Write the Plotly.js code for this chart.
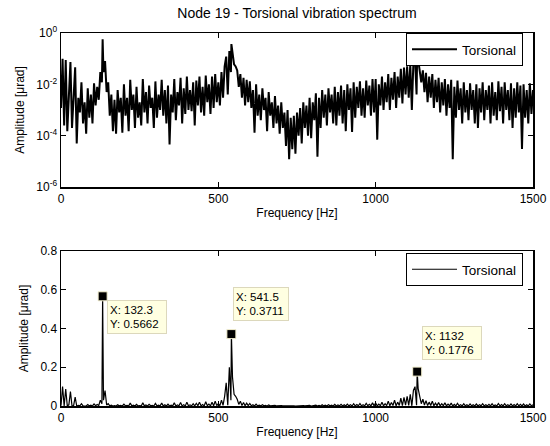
<!DOCTYPE html>
<html><head><meta charset="utf-8">
<script src="https://cdn.plot.ly/plotly-3.0.1.min.js"></script>
<style>html,body{margin:0;padding:0;background:#fff;}#chart{width:550px;height:446px;}</style>
</head><body><div id="chart"></div>
<script>
var chartTitle = "Node 19 - Torsional vibration spectrum";
var seriesName = "Torsional";
var xTitle = "Frequency [Hz]";
var yTitle = "Amplitude [\u03bcrad]";
var xTickVals = [0, 500, 1000, 1500];
var logTickVals = [1e-6, 1e-4, 1e-2, 1];
var logTickText = ["10<sup>-6</sup>", "10<sup>-4</sup>", "10<sup>-2</sup>", "10<sup>0</sup>"];
var linTickVals = [0, 0.2, 0.4, 0.6, 0.8];

var freq = [
0,5,10,15,20,25,30,35,40,45,50,55,60,65,70,75,80,85,90,95,
100,105,110,115,120,125,130,132.3,135,140,145,150,155,160,165,170,175,180,185,190,195,
200,205,210,215,220,225,230,235,240,245,250,255,260,265,270,275,280,285,290,295,
300,305,310,315,320,325,330,335,340,345,350,355,360,365,370,375,380,385,390,395,
400,405,410,415,420,425,430,435,440,445,450,455,460,465,470,475,480,485,490,495,
500,505,510,515,520,525,530,535,540,541.5,545,550,555,560,565,570,575,580,585,590,595,
600,605,610,615,620,625,630,635,640,645,650,655,660,665,670,675,680,685,690,695,
700,705,710,715,720,725,730,735,740,745,750,755,760,765,770,775,780,785,790,795,
800,805,810,815,820,825,830,835,840,845,850,855,860,865,870,875,880,885,890,895,
900,905,910,915,920,925,930,935,940,945,950,955,960,965,970,975,980,985,990,995,
1000,1005,1010,1015,1020,1025,1030,1035,1040,1045,1050,1055,1060,1065,1070,1075,1080,1085,1090,1095,
1100,1105,1110,1115,1120,1125,1130,1132,1135,1140,1145,1150,1155,1160,1165,1170,1175,1180,1185,1190,1195,
1200,1205,1210,1215,1220,1225,1230,1235,1240,1245,1250,1255,1260,1265,1270,1275,1280,1285,1290,1295,
1300,1305,1310,1315,1320,1325,1330,1335,1340,1345,1350,1355,1360,1365,1370,1375,1380,1385,1390,1395,
1400,1405,1410,1415,1420,1425,1430,1435,1440,1445,1450,1455,1460,1465,1470,1475,1480,1485,1490,1495,
1500
];

var amp = [
1.2e-3,0.10,2.5e-4,0.088,1.5e-4,6e-3,0.074,2e-4,2e-3,0.046,5e-5,3e-3,8e-4,0.012,3e-4,2e-3,1.2e-4,7e-3,5e-4,4e-3,
3e-4,0.011,1.5e-3,0.008,2.5e-3,0.03,0.012,0.5662,0.03,0.08,5e-3,0.012,6e-4,4e-3,1.5e-4,2.5e-3,1.2e-4,6e-3,8e-4,3e-3,1.3e-4,
0.01,6e-4,3e-3,1.5e-4,0.015,1e-3,4e-3,2e-4,0.008,5e-4,2e-3,2.5e-4,0.016,8e-4,5e-3,3e-4,0.009,1.2e-3,3e-3,2e-4,
0.013,5e-4,4e-3,1e-3,0.015,6e-4,6e-3,3e-4,0.009,4.5e-5,0.004,8e-4,0.016,4e-4,5e-3,1.5e-3,0.018,3e-4,0.007,7e-4,
0.02,1e-3,0.006,9e-4,0.012,2.5e-4,0.014,1.5e-3,0.02,8e-4,0.008,6e-4,0.022,2e-3,0.01,7e-4,0.02,1.2e-3,0.025,2e-3,
0.012,1.5e-3,0.03,3e-3,0.05,0.12,4e-3,0.2,0.03,0.3711,0.15,0.06,0.05,0.035,8e-3,0.025,3e-3,0.018,1.5e-3,0.015,2e-3,
0.013,1.2e-3,0.006,1.3e-4,0.01,6e-4,4e-3,4e-4,0.007,1e-3,3e-3,1.5e-4,5e-3,6e-4,2e-3,2e-4,3.5e-3,3e-4,1.5e-3,1.2e-4,
2e-3,2e-4,8e-4,4e-5,1e-3,1.2e-5,5e-4,3e-5,6e-4,2e-5,8e-4,1e-4,1.2e-3,5e-5,2e-3,2e-4,1.5e-3,1e-4,3e-3,8e-5,
2e-3,4e-4,4.5e-3,1.5e-5,3e-3,2e-4,6e-3,5e-4,4e-3,2.5e-4,7e-3,8e-4,4e-3,3e-4,8e-3,2.5e-4,5e-3,6e-4,9e-3,3e-4,
6e-3,1.5e-4,0.01,1e-3,0.007,1.4e-4,0.012,5e-4,0.008,1.2e-3,0.013,6e-4,0.007,5e-4,0.014,1.5e-3,0.009,6e-4,0.016,8e-4,
0.016,7e-5,0.01,1.5e-3,0.02,1e-3,0.012,2e-3,0.025,1e-3,0.018,2.5e-3,0.03,1.2e-3,0.02,3e-3,0.04,1.8e-3,0.045,4e-3,
0.05,3e-3,0.06,1e-3,0.08,0.1,4e-3,0.1776,0.09,0.05,0.012,0.035,5e-3,0.028,2e-3,0.02,3e-3,0.025,1.2e-3,0.015,2e-3,
0.018,8e-4,0.012,1.5e-3,0.016,6e-4,0.01,1.2e-3,0.015,1.2e-5,0.008,5e-4,0.014,1e-3,0.007,3e-4,0.012,8e-4,0.006,4e-4,
0.011,1e-3,0.006,3e-4,0.01,2e-4,0.007,8e-4,0.012,4e-4,0.006,1e-3,0.009,3e-4,0.012,6e-4,0.005,4e-4,0.013,9e-4,
0.008,3e-4,0.012,1e-3,0.006,4e-4,0.011,2e-4,0.007,5e-4,0.012,8e-4,0.009,3e-5,0.01,5e-4,0.006,3e-4,0.011,7e-4,
6e-3
];

var tipX = [132.3, 541.5, 1132];
var tipY = [0.5662, 0.3711, 0.1776];
var tipLabelX = ["132.3", "541.5", "1132"];
var tipLabelY = ["0.5662", "0.3711", "0.1776"];

var FONT = "Liberation Sans, Arial, sans-serif";

var traces = [
  {x: freq, y: amp, type: "scatter", mode: "lines", name: seriesName,
   line: {color: "#000", width: 2}, xaxis: "x", yaxis: "y", legend: "legend"},
  {x: freq, y: amp, type: "scatter", mode: "lines", name: seriesName,
   line: {color: "#000", width: 1.2}, xaxis: "x2", yaxis: "y2", legend: "legend2"},
  {x: tipX, y: tipY, type: "scatter", mode: "markers", showlegend: false,
   marker: {symbol: "square", size: 9, color: "#000", line: {color: "#f3efcf", width: 1}},
   xaxis: "x2", yaxis: "y2"}
];

var tipShift = [[4, -4], [2, 47], [5, 46]];
var tipWidth = [54, 50, 54];
var annotations = tipX.map(function (x, i) {
  return {x: x, y: tipY[i], xref: "x2", yref: "y2", showarrow: false,
    xanchor: "left", yanchor: "top", xshift: tipShift[i][0], yshift: tipShift[i][1],
    text: "X: " + tipLabelX[i] + "<br>Y: " + tipLabelY[i], align: "left",
    width: tipWidth[i], height: 28, borderpad: 2,
    bgcolor: "#ffffe1", bordercolor: "#dcd8bc", borderwidth: 1,
    font: {family: FONT, size: 11.5, color: "#000"}};
});

function xax(anchor) {
  return {anchor: anchor, range: [0, 1500], tickmode: "array", tickvals: xTickVals,
    ticks: "inside", ticklen: 5, tickwidth: 1, tickcolor: "#000",
    showline: true, linecolor: "#000", linewidth: 1.5, mirror: "ticks",
    showgrid: false, zeroline: false,
    tickfont: {family: FONT, size: 12, color: "#000"},
    title: {text: xTitle, font: {family: FONT, size: 12, color: "#000"}, standoff: 3}};
}

var layout = {
  width: 550, height: 446,
  margin: {l: 61, r: 17, t: 33, b: 40},
  paper_bgcolor: "#fff", plot_bgcolor: "#fff",
  font: {family: FONT, size: 12, color: "#000"},
  title: {text: chartTitle, font: {family: FONT, size: 14, color: "#000"},
    x: 0.5, xref: "paper", y: 1 - 13 / 446, yref: "container", yanchor: "middle"},
  xaxis: Object.assign(xax("y"), {domain: [0, 1]}),
  yaxis: {domain: [0.5871, 1], anchor: "x", type: "log", range: [-6, 0],
    tickmode: "array", tickvals: logTickVals, ticktext: logTickText,
    ticks: "inside", ticklen: 5, tickcolor: "#000",
    showline: true, linecolor: "#000", linewidth: 1.5, mirror: "ticks",
    showgrid: false, zeroline: false,
    tickfont: {family: FONT, size: 12, color: "#000"},
    title: {text: yTitle, font: {family: FONT, size: 12, color: "#000"}, standoff: 9}},
  xaxis2: Object.assign(xax("y2"), {domain: [0, 1]}),
  yaxis2: {domain: [0, 0.4155], anchor: "x2", range: [0, 0.8],
    tickmode: "array", tickvals: linTickVals,
    ticks: "inside", ticklen: 5, tickcolor: "#000",
    showline: true, linecolor: "#000", linewidth: 1.5, mirror: "ticks",
    showgrid: false, zeroline: false,
    tickfont: {family: FONT, size: 12, color: "#000"},
    title: {text: yTitle, font: {family: FONT, size: 12, color: "#000"}, standoff: 9}},
  legend: {x: 0.9788, xanchor: "right", y: 1, yanchor: "top", itemwidth: 45,
    bgcolor: "#fff", bordercolor: "#000", borderwidth: 1,
    font: {family: FONT, size: 13.5, color: "#000"}},
  legend2: {x: 0.9788, xanchor: "right", y: 0.4102, yanchor: "top", itemwidth: 45,
    bgcolor: "#fff", bordercolor: "#000", borderwidth: 1,
    font: {family: FONT, size: 13.5, color: "#000"}},
  annotations: annotations,
  showlegend: true
};

Plotly.newPlot("chart", traces, layout, {staticPlot: true, displayModeBar: false});
</script></body></html>
